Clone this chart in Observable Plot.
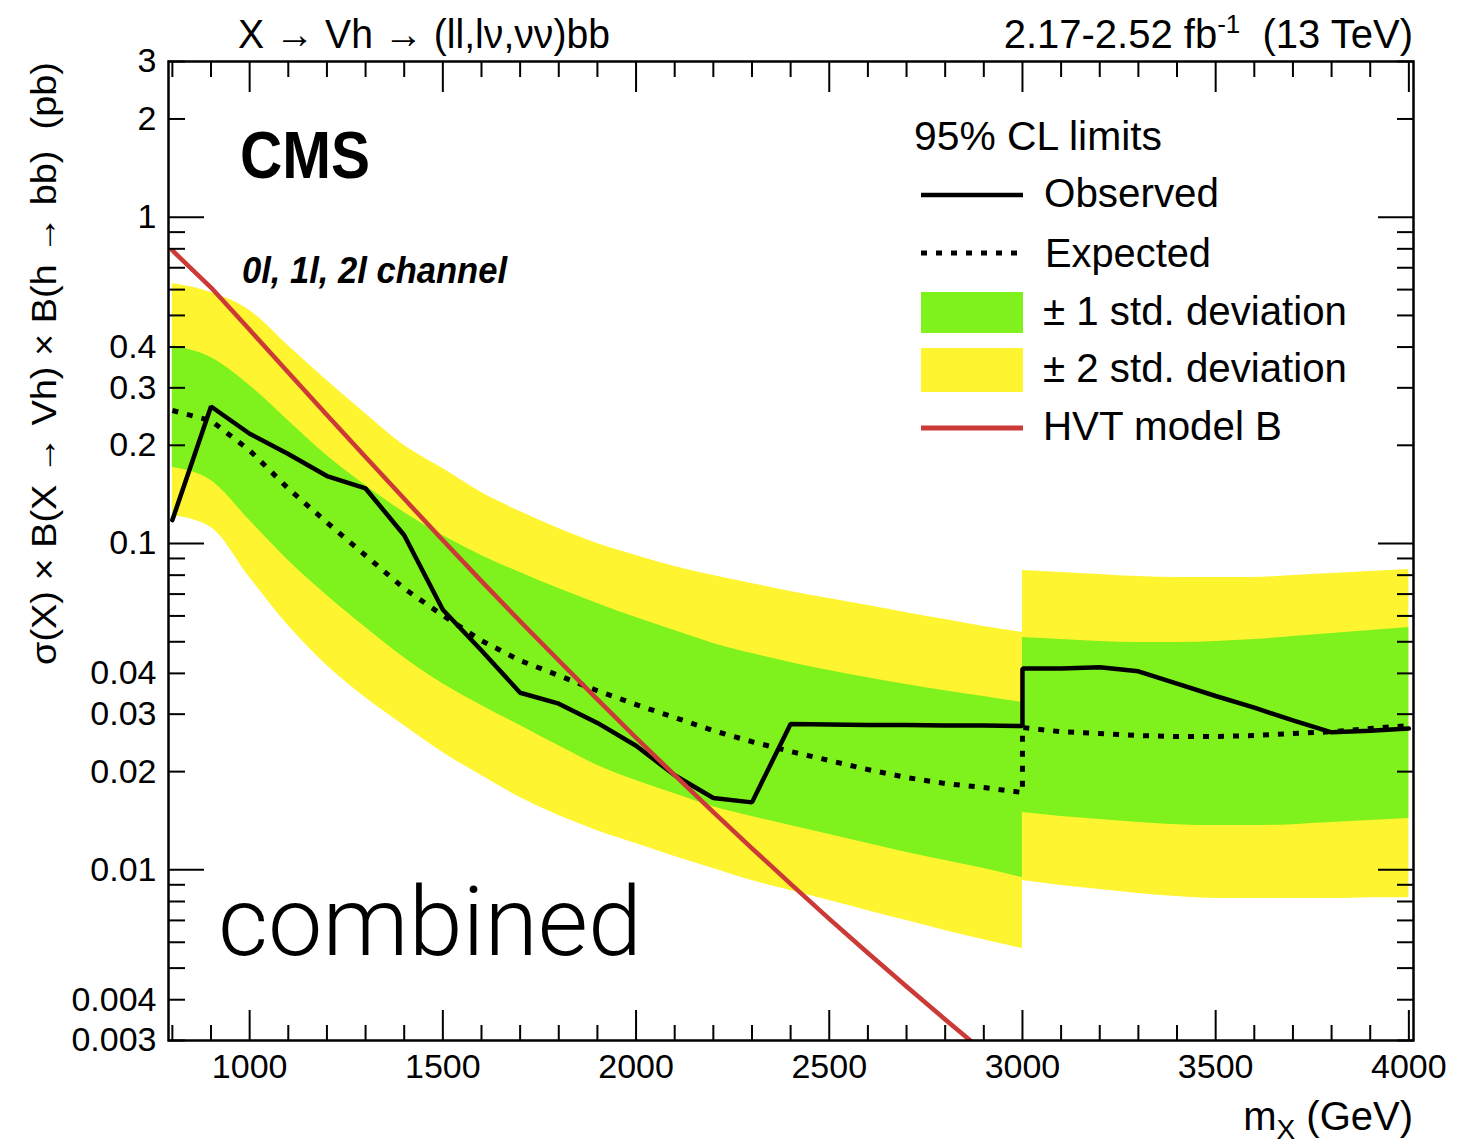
<!DOCTYPE html>
<html><head><meta charset="utf-8">
<script src="https://cdn.jsdelivr.net/npm/d3@7"></script>
<script src="https://cdn.jsdelivr.net/npm/@observablehq/plot@0.6"></script>
<style>
html,body{margin:0;padding:0;background:#fff;}
#chart{width:1477px;height:1146px;}
</style></head><body><div id="chart"></div>
<script>
// ---- data ----
const massLeft = [800,900,1000,1100,1200,1300,1400,1500,1600,1700,1800,1900,2000,2100,2200,2300,2400,2500,2600,2700,2800,2900,3000];
const obsLeft  = [0.118,0.263,0.217,0.188,0.161,0.1475,0.106,0.0627,0.047,0.0349,0.0323,0.0282,0.024,0.0195,0.0166,0.0161,0.0280,0.0279,0.0278,0.0278,0.0277,0.0277,0.0276];
const expLeft  = [0.2557,0.238,0.1928,0.1474,0.1160,0.0919,0.0728,0.0602,0.0504,0.0438,0.0394,0.0354,0.0321,0.0293,0.0267,0.0247,0.02305,0.02163,0.0203,0.01918,0.01839,0.01788,0.01726];
const s1HiLeft = [0.404,0.3715,0.305,0.238,0.186,0.1506,0.1245,0.1058,0.0919,0.0815,0.0728,0.0655,0.0593,0.0541,0.0494,0.0460,0.0432,0.0408,0.0388,0.0370,0.0354,0.0340,0.0326];
const s1LoLeft = [0.171,0.156,0.1176,0.0887,0.0693,0.0553,0.0447,0.0372,0.0319,0.0277,0.0240,0.0209,0.0188,0.0171,0.0156,0.01457,0.01367,0.01283,0.01204,0.01130,0.01068,0.01009,0.00947];
const s2HiLeft = [0.626,0.588,0.518,0.404,0.316,0.250,0.1997,0.1697,0.1433,0.1253,0.1112,0.1000,0.0919,0.0850,0.0798,0.0754,0.0713,0.0678,0.0646,0.0614,0.0585,0.0557,0.0534];
const s2LoLeft = [0.1219,0.1120,0.0787,0.0561,0.0423,0.0337,0.0277,0.0229,0.01945,0.01666,0.01467,0.01319,0.01204,0.01099,0.01009,0.00927,0.00865,0.00805,0.00750,0.00699,0.00652,0.00611,0.00574];

const massRight = [3000,3100,3200,3300,3400,3500,3600,3700,3800,3900,4000];
const obsRight  = [0.0414,0.0414,0.0418,0.0406,0.0372,0.0341,0.0314,0.0287,0.0264,0.0267,0.0271];
const expRight  = [0.0273,0.0265,0.02616,0.0258,0.02562,0.02562,0.0258,0.02616,0.0265,0.0271,0.0277];
const s1HiRight = [0.0515,0.0508,0.0501,0.0497,0.0497,0.0501,0.0508,0.0519,0.0530,0.0541,0.0553];
const s1LoRight = [0.01498,0.01457,0.01426,0.01396,0.01376,0.01367,0.01367,0.01376,0.01396,0.01416,0.01436];
const s2HiRight = [0.0827,0.0815,0.0804,0.0792,0.0787,0.0787,0.0787,0.0798,0.0809,0.0821,0.0833];
const s2LoRight = [0.00927,0.00895,0.00870,0.00846,0.00828,0.00817,0.00817,0.00817,0.00817,0.00822,0.00822];

const hvtMass  = [800,900,1000,1100,1200,1300,1400,1500,1600,1700,1800,1900,2000,2100,2200,2300,2400,2500,2600,2700,2800,2900];
const hvtXsec  = [0.7907,0.6088,0.4519,0.3342,0.2477,0.1841,0.1371,0.1023,0.0767,0.0578,0.0438,0.0333,0.0254,0.0195,0.01503,0.01164,0.00906,0.00708,0.00556,0.00439,0.00348,0.00277];

const xMajor = [1000,1500,2000,2500,3000,3500,4000];
const xMinor = [800,900,1100,1200,1300,1400,1600,1700,1800,1900,2100,2200,2300,2400,2600,2700,2800,2900,3100,3200,3300,3400,3600,3700,3800,3900];
const yMajor = [0.01,0.1,1];
const yMinor = [0.003,0.004,0.005,0.006,0.007,0.008,0.009,0.02,0.03,0.04,0.05,0.06,0.07,0.08,0.09,0.2,0.3,0.4,0.5,0.6,0.7,0.8,0.9,2,3];
const yLabels = [0.003,0.004,0.01,0.02,0.03,0.04,0.1,0.2,0.3,0.4,1,2,3];

const GREEN = "#7ff21d", YELLOW = "#fff430", RED = "#cc3a37";

// ---- tables ----
const band = (mL, loL, hiL, mR, loR, hiR) => [
  ...mL.map((m,i) => ({m, lo: loL[i], hi: hiL[i], seg: "a"})),
  ...mR.map((m,i) => ({m, lo: loR[i], hi: hiR[i], seg: "b"}))
];
const band2 = band(massLeft, s2LoLeft, s2HiLeft, massRight, s2LoRight, s2HiRight);
const band1 = band(massLeft, s1LoLeft, s1HiLeft, massRight, s1LoRight, s1HiRight);
const observed = [...massLeft.map((m,i)=>({m, v: obsLeft[i]})), ...massRight.map((m,i)=>({m, v: obsRight[i]}))];
const expected = [...massLeft.map((m,i)=>({m, v: expLeft[i]})), ...massRight.map((m,i)=>({m, v: expRight[i]}))];
const hvt = hvtMass.map((m,i)=>({m, v: hvtXsec[i]}));

const FONT = "'Liberation Sans', Arial, Helvetica, sans-serif";
const fmt = d => String(d);

const chart = Plot.plot({
  width: 1477, height: 1146,
  marginLeft: 168, marginRight: 64, marginTop: 61, marginBottom: 106,
  x: {domain: [790, 4012]},
  y: {type: "log", domain: [0.003, 3]},
  style: {fontFamily: FONT, fontSize: "34px", background: "white", color: "black"},
  marks: [
    Plot.areaY(band2, {x: "m", y1: "lo", y2: "hi", z: "seg", fill: YELLOW, curve: "monotone-x"}),
    Plot.areaY(band1, {x: "m", y1: "lo", y2: "hi", z: "seg", fill: GREEN, curve: "monotone-x"}),
    Plot.line(expected, {x: "m", y: "v", stroke: "black", strokeWidth: 5, strokeDasharray: "6,9", strokeLinecap: "butt"}),
    Plot.line(observed, {x: "m", y: "v", stroke: "black", strokeWidth: 4.5, strokeLinejoin: "miter"}),
    Plot.line(hvt, {x: "m", y: "v", stroke: RED, strokeWidth: 4.5, clip: true}),
    // x ticks (inward, both sides)
    Plot.axisX(xMajor, {anchor: "bottom", tickSize: -30, fill: "none", label: null, strokeWidth: 2}),
    Plot.axisX(xMinor, {anchor: "bottom", tickSize: -15, fill: "none", label: null, strokeWidth: 2}),
    Plot.axisX(xMajor, {anchor: "top", tickSize: -30, fill: "none", label: null, strokeWidth: 2}),
    Plot.axisX(xMinor, {anchor: "top", tickSize: -15, fill: "none", label: null, strokeWidth: 2}),
    Plot.axisX(xMajor, {anchor: "bottom", tickSize: 0, tickPadding: 13, label: null, tickFormat: fmt, fontSize: 34}),
    // y ticks
    Plot.axisY(yMajor, {anchor: "left", tickSize: -36, fill: "none", label: null, strokeWidth: 2}),
    Plot.axisY(yMinor, {anchor: "left", tickSize: -17, fill: "none", label: null, strokeWidth: 2}),
    Plot.axisY(yMajor, {anchor: "right", tickSize: -36, fill: "none", label: null, strokeWidth: 2}),
    Plot.axisY(yMinor, {anchor: "right", tickSize: -17, fill: "none", label: null, strokeWidth: 2}),
    Plot.axisY(yLabels, {anchor: "left", tickSize: 0, tickPadding: 12, label: null, tickFormat: fmt, fontSize: 34}),
    Plot.frame({stroke: "black", strokeWidth: 2.5})
  ]
});
document.getElementById("chart").appendChild(chart);

// ---- annotations & legend ----
const svg = d3.select(chart);
const g = svg.append("g").attr("font-family", FONT).attr("fill", "black").attr("text-anchor", "start");
function txt(x, y, s, size, opts = {}) {
  const t = g.append("text").attr("x", x).attr("y", y).attr("font-size", size).text(s);
  t.attr("text-anchor", opts.anchor || "start");
  if (opts.weight) t.attr("font-weight", opts.weight);
  if (opts.style) t.attr("font-style", opts.style);
  if (opts.family) t.attr("font-family", opts.family);
  if (opts.len) t.attr("textLength", opts.len).attr("lengthAdjust", "spacingAndGlyphs");
  return t;
}
txt(238, 48, "X \u2192 Vh \u2192 (ll,l\u03bd,\u03bd\u03bd)bb", 40, {len: 372});
{
  const t = g.append("text").attr("x", 1413).attr("y", 48).attr("font-size", 40).attr("text-anchor", "end");
  t.append("tspan").text("2.17-2.52 fb");
  t.append("tspan").attr("dy", -15).attr("font-size", 26).text("-1");
  t.append("tspan").attr("dy", 15).text("\u00a0\u00a0(13 TeV)");
}
txt(240, 178, "CMS", 66, {weight: "bold", len: 130});
txt(242, 283, "0l, 1l, 2l channel", 36, {weight: "bold", style: "italic", len: 265});
txt(218, 955, "combined", 96, {family: "Roboto, 'Liberation Sans', sans-serif", weight: 300, len: 424});
{
  const t = g.append("text").attr("x", 1413).attr("y", 1130).attr("font-size", 40).attr("text-anchor", "end");
  t.append("tspan").text("m");
  t.append("tspan").attr("dy", 9).attr("font-size", 28).text("X");
  t.append("tspan").attr("dy", -9).text("\u00a0(GeV)");
}
g.append("text").attr("transform", "translate(56,62) rotate(-90)").attr("text-anchor", "end")
  .attr("font-size", 35).attr("textLength", 603).attr("lengthAdjust", "spacingAndGlyphs")
  .text("\u03c3(X) \u00d7 B(X \u2192 Vh) \u00d7 B(h \u2192 bb)\u00a0\u00a0(pb)");

// legend
txt(914, 150, "95% CL limits", 40, {len: 248});
g.append("line").attr("x1", 921).attr("x2", 1023).attr("y1", 195).attr("y2", 195).attr("stroke", "black").attr("stroke-width", 4.5);
txt(1044, 207, "Observed", 41, {len: 175});
g.append("line").attr("x1", 921).attr("x2", 1023).attr("y1", 253).attr("y2", 253).attr("stroke", "black").attr("stroke-width", 5).attr("stroke-dasharray", "6,9");
txt(1045, 267, "Expected", 41, {len: 166});
g.append("rect").attr("x", 921).attr("y", 292).attr("width", 102).attr("height", 41).attr("fill", GREEN);
txt(1043, 325, "\u00b1 1 std. deviation", 41, {len: 304});
g.append("rect").attr("x", 921).attr("y", 348).attr("width", 102).attr("height", 44).attr("fill", YELLOW);
txt(1043, 382, "\u00b1 2 std. deviation", 41, {len: 304});
g.append("line").attr("x1", 921).attr("x2", 1023).attr("y1", 428).attr("y2", 428).attr("stroke", RED).attr("stroke-width", 5);
txt(1043, 440, "HVT model B", 41, {len: 239});
</script></body></html>
